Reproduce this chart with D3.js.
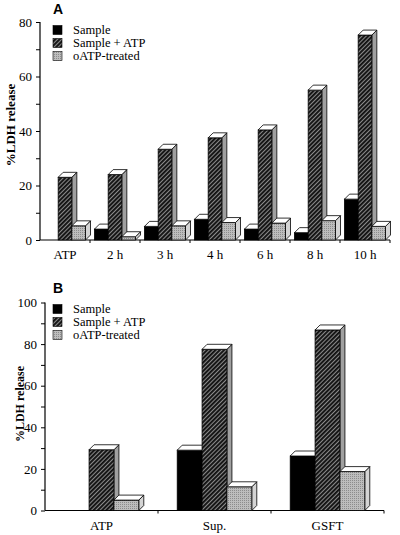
<!DOCTYPE html>
<html><head><meta charset="utf-8">
<script src="https://cdn.jsdelivr.net/npm/d3@7"></script>
<style>body{margin:0;background:#fff}svg{display:block}</style>
</head><body>
<svg id="c" width="400" height="535"></svg>
<script>
const seriesNames = ["Sample", "Sample + ATP", "oATP-treated"];
const catsA = ["ATP", "2 h", "3 h", "4 h", "6 h", "8 h", "10 h"];
const sampleA = [0, 4, 5, 7.6, 4, 2.7, 15];
const sampleAtpA = [23, 24, 33.3, 37.5, 40.4, 55, 75.2];
const oatpA = [5.2, 1.2, 5.2, 6.4, 6.2, 7.1, 5];
const ticksA = [0, 20, 40, 60, 80];

const catsB = ["ATP", "Sup.", "GSFT"];
const sampleB = [0, 29, 26.2];
const sampleAtpB = [29.2, 77.5, 86.8];
const oatpB = [5, 11.4, 18.7];
const ticksB = [0, 20, 40, 60, 80, 100];

const svg = d3.select("#c");
const defs = svg.append("defs");
const ph = defs.append("pattern").attr("id","hatch").attr("patternUnits","userSpaceOnUse")
  .attr("width",3).attr("height",3).attr("patternTransform","rotate(45)");
ph.append("rect").attr("width",3).attr("height",3).attr("fill","#8a8a8a");
ph.append("rect").attr("width",1.9).attr("height",3).attr("fill","#111");
const pg = defs.append("pattern").attr("id","gray").attr("patternUnits","userSpaceOnUse")
  .attr("width",2).attr("height",2);
pg.append("rect").attr("width",2).attr("height",2).attr("fill","#bdbdbd");
pg.append("rect").attr("width",1).attr("height",1).attr("fill","#8c8c8c");

const serif = "'Liberation Serif', 'DejaVu Serif', serif";
const fills = ["#000", "url(#hatch)", "url(#gray)"];
const sideFills = ["#000", "#a0a0a0", "#d4d4d4"];

function panel(opt){
  const {cats, series, ticks, xr, yr, ymax, frac, letter, ly, ylabelX, ylabelY, ylabelSize} = opt;
  const g = svg.append("g");
  const x = d3.scaleBand().domain(cats).range(xr).padding(0);
  const y = d3.scaleLinear().domain([0, ymax]).range(yr);
  const dx = 5, dy = 5;
  const inner = d3.scaleBand().domain(d3.range(3)).range([0, x.bandwidth()*frac]);
  const off = (x.bandwidth() - x.bandwidth()*frac)/2;

  const ya = d3.axisLeft(y).tickValues(d3.range(0, ymax+1, 10)).tickSize(4)
    .tickFormat(d => ticks.includes(d) ? d : "");
  const yg = g.append("g").attr("transform",`translate(${xr[0]},0)`).call(ya);
  yg.select(".domain").attr("stroke","#000").attr("stroke-width",1.2).attr("d",`M0,${yr[0]}V${yr[1]}`);
  yg.selectAll("text").attr("font-family",serif).attr("font-size",13).attr("fill","#000").attr("dx",-1);
  yg.selectAll("line").attr("stroke","#000");

  const bounds = cats.slice(1).map(c => x(c)).concat([xr[1]]);
  g.append("line").attr("x1",xr[0]).attr("x2",xr[1]).attr("y1",y(0)).attr("y2",y(0))
    .attr("stroke","#000").attr("stroke-width",1.2);
  g.selectAll(".xt").data(bounds).join("line").attr("x1",d=>d).attr("x2",d=>d)
    .attr("y1",y(0)).attr("y2",y(0)+3).attr("stroke","#000");
  g.selectAll(".xl").data(cats).join("text").attr("x",d=>x(d)+x.bandwidth()/2).attr("y",y(0)+19)
    .attr("text-anchor","middle").attr("font-family",serif).attr("font-size",13).text(d=>d);

  cats.forEach((c, i) => {
    series.forEach((vals, s) => {
      const v = vals[i];
      if (!v) return;
      const x0 = x(c) + off + inner(s), w = inner.bandwidth();
      const yt = y(v), yb = y(0);
      g.append("path").attr("d",`M${x0+w},${yb}L${x0+w+dx},${yb-dy}L${x0+w+dx},${yt-dy}L${x0+w},${yt}Z`)
        .attr("fill",sideFills[s]).attr("stroke","#000").attr("stroke-width",0.8);
      g.append("rect").attr("x",x0).attr("y",yt).attr("width",w).attr("height",yb-yt)
        .attr("fill",fills[s]).attr("stroke","#000").attr("stroke-width",0.8);
      g.append("path").attr("d",`M${x0},${yt}L${x0+dx},${yt-dy}L${x0+w+dx},${yt-dy}L${x0+w},${yt}Z`)
        .attr("fill","#fff").attr("stroke","#000").attr("stroke-width",0.8);
    });
  });

  g.append("text").attr("x",53).attr("y",ly).attr("font-family","'Liberation Sans', Arial, sans-serif")
    .attr("font-weight","bold").attr("font-size",14).text(letter);
  const lg = g.append("g");
  seriesNames.forEach((n, s) => {
    const yy = ly + 16 + s*13;
    lg.append("rect").attr("x",53).attr("y",yy-4.5).attr("width",9).attr("height",9)
      .attr("fill",fills[s]).attr("stroke","#000").attr("stroke-width",0.6);
    lg.append("text").attr("x",73).attr("y",yy+4).attr("font-family",serif).attr("font-size",12.5).text(n);
  });
  g.append("text").attr("transform",`translate(${ylabelX},${ylabelY}) rotate(-90)`)
    .attr("text-anchor","middle").attr("font-family",serif).attr("font-weight","bold")
    .attr("font-size",ylabelSize).text("%LDH release");
}

panel({cats:catsA, series:[sampleA, sampleAtpA, oatpA], ticks:ticksA, xr:[40,390], yr:[240,22], ymax:80,
  frac:0.82, letter:"A", ly:14, ylabelX:15, ylabelY:125, ylabelSize:13});
panel({cats:catsB, series:[sampleB, sampleAtpB, oatpB], ticks:ticksB, xr:[45,384], yr:[510.5,302.5], ymax:100,
  frac:0.66, letter:"B", ly:293, ylabelX:24, ylabelY:404, ylabelSize:12});
</script>
</body></html>
